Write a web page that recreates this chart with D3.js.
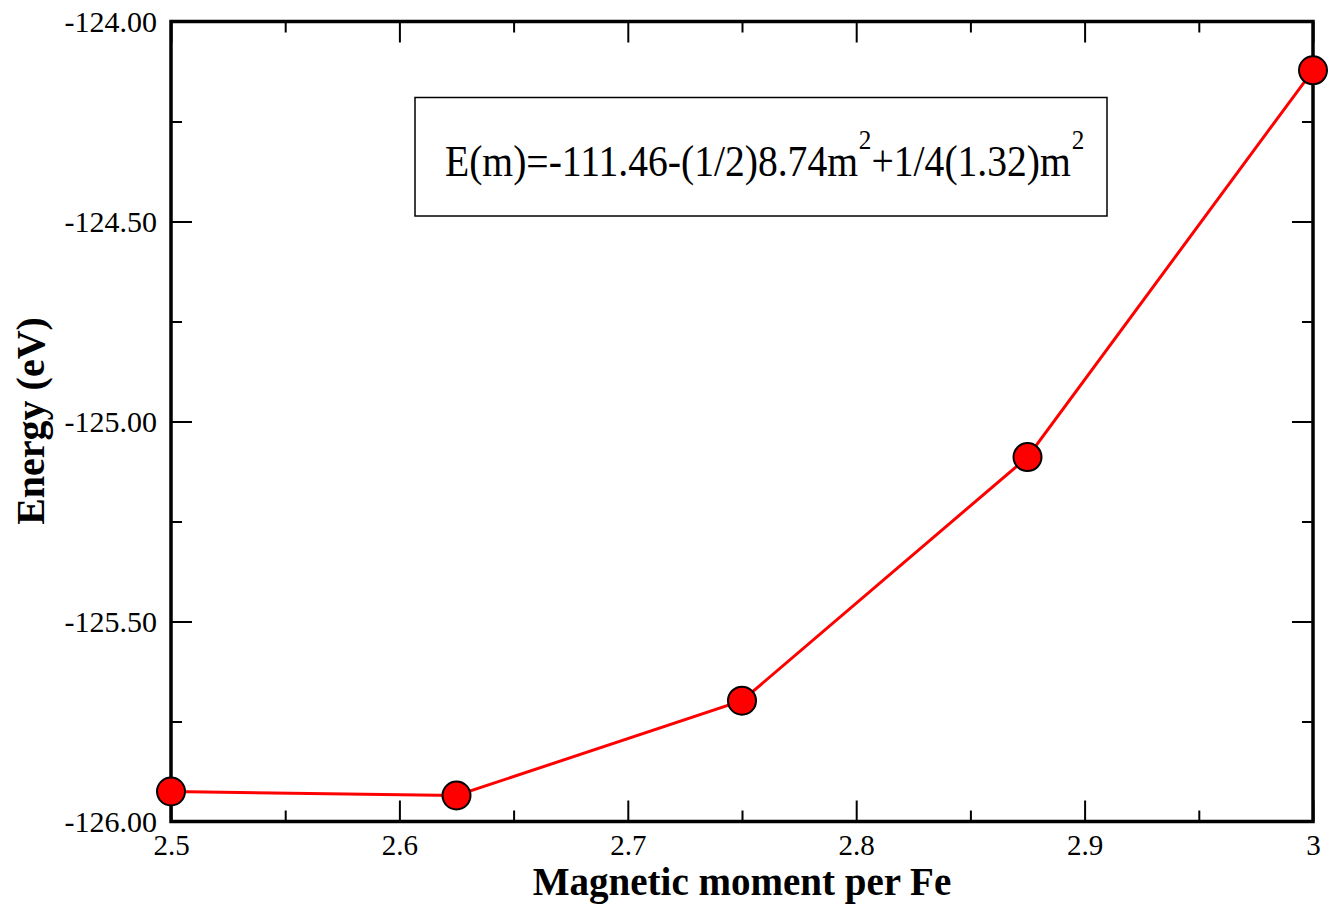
<!DOCTYPE html>
<html>
<head>
<meta charset="utf-8">
<script src="https://cdn.jsdelivr.net/npm/d3@7"></script>
<style>
  html, body { margin: 0; padding: 0; background: #fff; }
  svg { display: block; }
</style>
</head>
<body>
<svg id="chart" width="1340" height="908"></svg>
<script>
// Data
const moments = [2.5, 2.625, 2.75, 2.875, 3.0];
const energies = [-125.925, -125.935, -125.698, -125.089, -124.122];
const xMajorTicks = [2.5, 2.6, 2.7, 2.8, 2.9, 3.0];
const xTickLabels = ["2.5", "2.6", "2.7", "2.8", "2.9", "3"];
const yMajorTicks = [-126.0, -125.5, -125.0, -124.5, -124.0];
const yTickLabels = ["-126.00", "-125.50", "-125.00", "-124.50", "-124.00"];
const xMinorTicks = [2.55, 2.65, 2.75, 2.85, 2.95];
const yMinorTicks = [-125.75, -125.25, -124.75, -124.25];
const xTitle = "Magnetic moment per Fe";
const yTitle = "Energy (eV)";
const eqParts = ["E(m)=-111.46-(1/2)8.74m", "2", "+1/4(1.32)m", "2"];

const FONT = "Liberation Serif, Times New Roman, serif";
const svg = d3.select("#chart");
const L = 171, R = 1313, T = 21.5, B = 821.5;

const x = d3.scaleLinear().domain([2.5, 3.0]).range([L, R]);
const y = d3.scaleLinear().domain([-126, -124]).range([B, T]);

const majorLen = 21, minorLen = 11;

function drawAxis(axisGen, tx, ty) {
  const g = svg.append("g").attr("transform", `translate(${tx},${ty})`).call(axisGen);
  g.select(".domain").remove();
  g.attr("font-family", FONT).attr("font-size", 30);
  g.selectAll("line").attr("stroke", "#000").attr("stroke-width", 2);
  return g;
}

// bottom
const gb = drawAxis(d3.axisBottom(x).tickValues(xMajorTicks).tickSize(-majorLen).tickPadding(0)
  .tickFormat((d, i) => xTickLabels[i]), 0, B);
gb.selectAll("text")
  .attr("y", 33).attr("dy", null)
  .style("font-size", "29px").style("font-family", FONT).style("fill", "#000");
drawAxis(d3.axisBottom(x).tickValues(xMinorTicks).tickSize(-minorLen).tickFormat(""), 0, B);
// top
drawAxis(d3.axisTop(x).tickValues(xMajorTicks).tickSize(-majorLen).tickFormat(""), 0, T);
drawAxis(d3.axisTop(x).tickValues(xMinorTicks).tickSize(-minorLen).tickFormat(""), 0, T);
// left
const gl = drawAxis(d3.axisLeft(y).tickValues(yMajorTicks).tickSize(-majorLen).tickPadding(0)
  .tickFormat((d, i) => yTickLabels[i]), L, 0);
gl.selectAll("text")
  .attr("x", -14).attr("dy", "0.33em")
  .style("font-size", "30px").style("font-family", FONT).style("fill", "#000");
drawAxis(d3.axisLeft(y).tickValues(yMinorTicks).tickSize(-minorLen).tickFormat(""), L, 0);
// right
drawAxis(d3.axisRight(y).tickValues(yMajorTicks).tickSize(-majorLen).tickFormat(""), R, 0);
drawAxis(d3.axisRight(y).tickValues(yMinorTicks).tickSize(-minorLen).tickFormat(""), R, 0);

// frame
svg.append("rect").attr("x", L).attr("y", T).attr("width", R - L).attr("height", B - T)
  .attr("fill", "none").attr("stroke", "#000").attr("stroke-width", 3.5);

// line
const data = moments.map((m, i) => ({ m, e: energies[i] }));
svg.append("path").datum(data)
  .attr("fill", "none").attr("stroke", "#ff0000").attr("stroke-width", 3)
  .attr("d", d3.line().x(d => x(d.m)).y(d => y(d.e)));

// markers
svg.selectAll("circle.pt").data(data).enter().append("circle")
  .attr("class", "pt")
  .attr("cx", d => x(d.m)).attr("cy", d => y(d.e)).attr("r", 14)
  .attr("fill", "#ff0000").attr("stroke", "#000").attr("stroke-width", 2);

// legend box
svg.append("rect").attr("x", 415).attr("y", 97.5).attr("width", 692).attr("height", 118.5)
  .attr("fill", "#fff").attr("stroke", "#000").attr("stroke-width", 1.5);
// equation drawn as consecutive text pieces (horizontally condensed)
const sx = 0.9;
const eqG = svg.append("g").attr("transform", `translate(445,176) scale(${sx},1)`);
let cursor = 0;
eqParts.forEach((p, i) => {
  const sup = i % 2 === 1;
  const t = eqG.append("text").attr("x", cursor).attr("y", sup ? -27 : 0)
    .style("font-size", sup ? "28px" : "44px").style("font-family", FONT).style("fill", "#000")
    .text(p);
  cursor += t.node().getComputedTextLength() + (sup ? 0 : 1);
});

// titles
svg.append("text").attr("x", 742).attr("y", 895).attr("text-anchor", "middle")
  .style("font-size", "39px").style("font-weight", "bold").style("font-family", FONT)
  .style("fill", "#000").text(xTitle);
svg.append("text").attr("transform", `translate(44,421) rotate(-90)`)
  .attr("text-anchor", "middle")
  .style("font-size", "40px").style("font-weight", "bold").style("font-family", FONT)
  .style("fill", "#000").text(yTitle);
</script>
</body>
</html>
